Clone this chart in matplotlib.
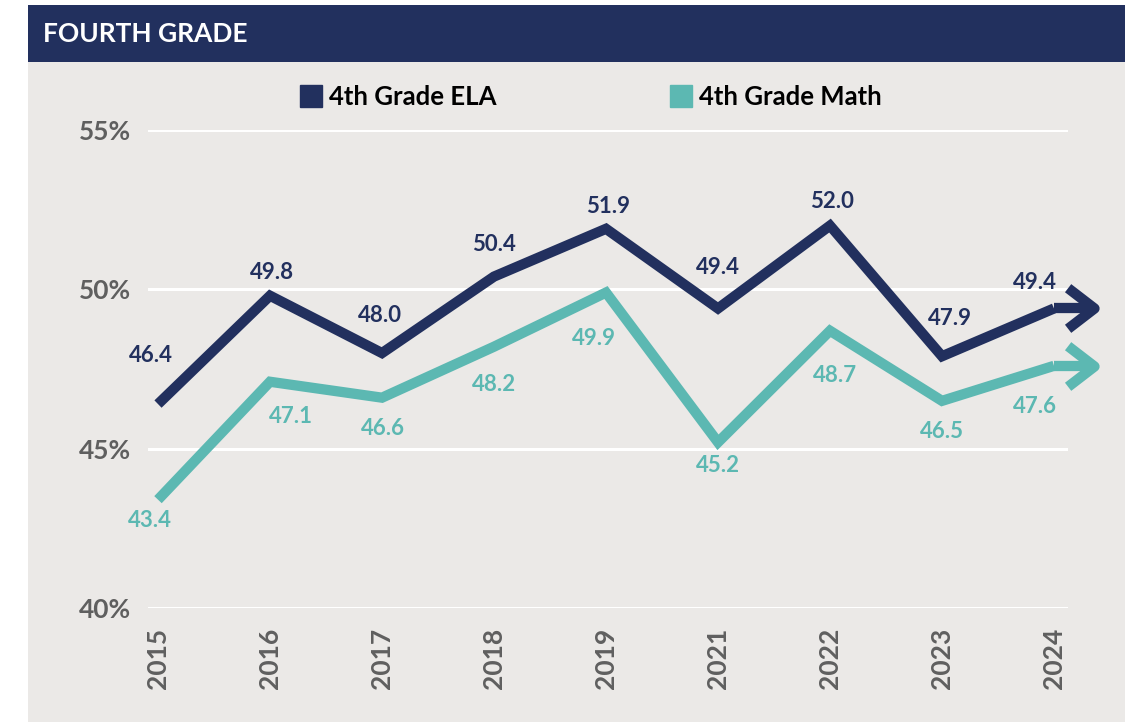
import numpy as np
import matplotlib
matplotlib.use("Agg")
import matplotlib.pyplot as plt
from matplotlib.patches import Rectangle
from matplotlib.path import Path
from matplotlib.markers import MarkerStyle
from matplotlib.lines import Line2D

plt.rcParams['font.family'] = ['Lato', 'DejaVu Sans']

# data
years = ['2015', '2016', '2017', '2018', '2019', '2021', '2022', '2023', '2024']
ela = [46.4, 49.8, 48.0, 50.4, 51.9, 49.4, 52.0, 47.9, 49.4]
math_ = [43.4, 47.1, 46.6, 48.2, 49.9, 45.2, 48.7, 46.5, 47.6]
yticks = [40, 45, 50, 55]

# label offsets in points (dx, dy)
ela_off = [(-5, 35), (1.5, 17), (-1.5, 27), (0, 23), (1.5, 16), (0, 29.5), (1.5, 17), (6, 27), (-14, 19)]
math_off = [(-6, -15), (15, -25), (1, -22), (0, -27), (-9, -33), (0, -17), (3.5, -32), (0, -22), (-14, -29)]

NAVY = '#22305e'
TEAL = '#5cb8b2'
BG = '#ebe9e7'
GRAY = '#5f5f5f'

W, H = 1125, 722
fig = plt.figure(figsize=(W / 100, H / 100), dpi=100)
fig.patch.set_facecolor('white')

# gray panel + header band
fig.patches.append(Rectangle((28 / W, 0), 1 - 28 / W, 1 - 5 / H, transform=fig.transFigure,
                             facecolor=BG, edgecolor='none', zorder=0))
fig.patches.append(Rectangle((28 / W, 1 - 62 / H), 1 - 28 / W, 57 / H, transform=fig.transFigure,
                             facecolor=NAVY, edgecolor='none', zorder=1))
fig.text(43 / W, 1 - 34 / H, 'FOURTH GRADE', color='white', fontsize=19, fontweight='bold',
         va='center', ha='left')

ax = fig.add_axes([148 / W, (H - 608) / H, 920 / W, 478 / H])
ax.set_zorder(3)
ax.set_facecolor('none')
x = np.arange(len(years))
ax.set_xlim(-10 / 112, 8 + 14 / 112)
ax.set_ylim(40, 55)
ax.set_yticks(yticks)
ax.set_yticklabels([f'{t}%' for t in yticks])
ax.set_xticks(x)
ax.set_xticklabels(years, rotation=90)
ax.grid(axis='y', color='white', lw=2.2)
ax.set_axisbelow(True)
for s in ax.spines.values():
    s.set_visible(False)
ax.tick_params(axis='both', length=0, labelcolor=GRAY, labelsize=19)
ax.tick_params(axis='y', pad=12)
ax.tick_params(axis='x', pad=14)
for lab in ax.get_xticklabels() + ax.get_yticklabels():
    lab.set_fontweight('bold')

chev = MarkerStyle(Path([(-1.3, 1), (0, 0), (-1.3, -1)]), joinstyle='miter', capstyle='butt')
ext = 0.36
for vals, col, offs in [(ela, NAVY, ela_off), (math_, TEAL, math_off)]:
    lw = 7.4
    ax.plot(x, vals, color=col, lw=lw, solid_joinstyle='miter', solid_capstyle='butt',
            zorder=3, clip_on=False)
    ax.plot([x[-1], x[-1] + ext], [vals[-1], vals[-1]], color=col, lw=lw,
            solid_capstyle='butt', zorder=3, clip_on=False)
    ax.plot([x[-1] + ext], [vals[-1]], marker=chev, ms=38, mfc='none', mec=col, mew=lw,
            zorder=3, clip_on=False)
    for xi, v, (dx, dy) in zip(x, vals, offs):
        ax.annotate(f'{v:.1f}', (xi, v), xytext=(dx, dy), textcoords='offset points',
                    ha='center', va='center', color=col, fontsize=16, fontweight='bold',
                    zorder=6)

handles = [Line2D([], [], ls='none', marker='s', ms=16, color=NAVY),
           Line2D([], [], ls='none', marker='s', ms=16, color=TEAL)]
leg = fig.legend(handles, ['4th Grade ELA', '4th Grade Math'], loc='center',
                 bbox_to_anchor=(591 / W, 1 - 97 / H), ncol=2, frameon=False,
                 prop={'weight': 'bold', 'size': 18.5}, handletextpad=0.3, columnspacing=6.8,
                 handlelength=0.8)
leg.set_zorder(4)

fig.savefig('out.png', dpi=100, facecolor=fig.get_facecolor())
